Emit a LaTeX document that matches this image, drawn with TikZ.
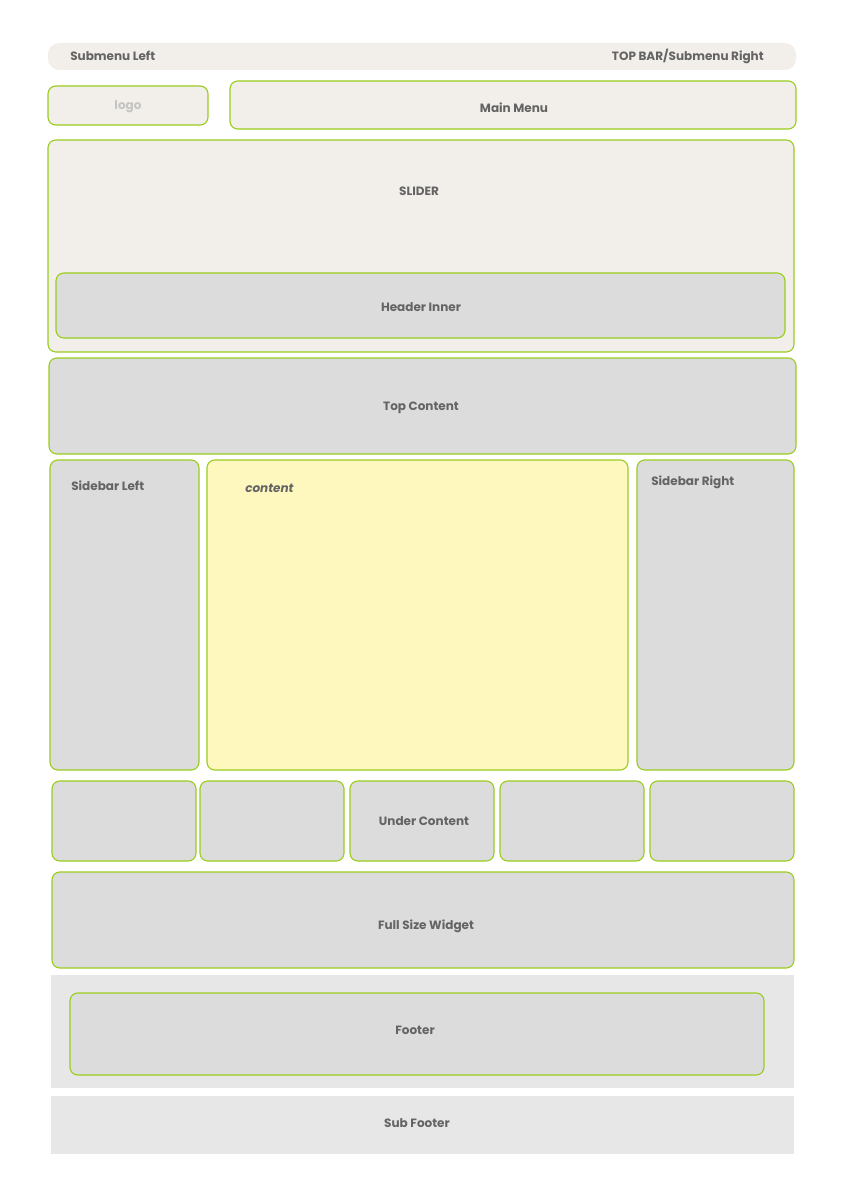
\documentclass[tikz,border=0pt]{standalone}
\usepackage{fontspec}
\setmainfont{Poppins}
\usetikzlibrary{fit}
\definecolor{bordergreen}{HTML}{9ACD1E}
\definecolor{beige}{HTML}{F2EFEA}
\definecolor{boxgray}{HTML}{DCDCDC}
\definecolor{lightgray}{HTML}{E7E7E7}
\definecolor{contentyellow}{HTML}{FEF8BE}
\definecolor{txt}{HTML}{646464}
\definecolor{logotxt}{HTML}{C4C4C4}
\tikzset{
  panel/.style={draw=bordergreen, line width=0.8pt, rounded corners=5.5pt, inner sep=0pt},
  beigepanel/.style={panel, fill=beige},
  graypanel/.style={panel, fill=boxgray},
  plainpanel/.style={fill=lightgray, draw=none, inner sep=0pt},
  lbl/.style={font=\bfseries\fontsize{8.5}{10}\selectfont, text=txt, inner sep=0pt, yshift=-1.2pt},
}
\begin{document}
\begin{tikzpicture}[x=0.70699pt, y=-0.70699pt]
\useasboundingbox[fill=white] (0,0) rectangle (842,1191);
% top bar
\node[fill=beige, rounded corners=8pt, inner sep=0pt, fit={(48,43) (796,70)}] (topbar) {};
\node[lbl, anchor=west] (subleft) at (70,54) {Submenu Left};
\node[lbl, anchor=east] (subright) at (764,55) {TOP BAR/Submenu Right};
% logo and main menu
\node[beigepanel, fit={(48,86) (208,125)}] (logo) {};
\node[lbl, text=logotxt] (logotext) at (logo.center) {logo};
\node[beigepanel, fit={(230,81) (796,129)}] (mainmenu) {};
\node[lbl] (mainmenutext) at (514,106) {Main Menu};
% slider
\node[beigepanel, fit={(48,140) (794,352)}] (slider) {};
\node[lbl] (slidertext) at (419,190) {SLIDER};
\node[graypanel, fit={(56,273) (785,338)}] (headerinner) {};
\node[lbl] (headerinnertext) at (421,305) {Header Inner};
% top content
\node[graypanel, fit={(49,358) (796,454)}] (topcontent) {};
\node[lbl] (topcontenttext) at (421,406) {Top Content};
% main row
\node[graypanel, fit={(50,460) (199,770)}] (sidebarleft) {};
\node[lbl, anchor=west] (sidebarlefttext) at (71,484) {Sidebar Left};
\node[panel, fill=contentyellow, fit={(207,460) (628,770)}] (content) {};
\node[lbl, anchor=west, font=\bfseries\itshape\fontsize{8.5}{10}\selectfont] (contenttext) at (245,487) {content};
\node[graypanel, fit={(637,460) (794,770)}] (sidebarright) {};
\node[lbl, anchor=west] (sidebarrighttext) at (651,481) {Sidebar Right};
% under content
\node[graypanel, fit={(52,781) (196,861)}] (uc1) {};
\node[graypanel, fit={(200,781) (344,861)}] (uc2) {};
\node[graypanel, fit={(350,781) (494,861)}] (uc3) {};
\node[graypanel, fit={(500,781) (644,861)}] (uc4) {};
\node[graypanel, fit={(650,781) (794,861)}] (uc5) {};
\node[lbl] (undercontenttext) at (424,819) {Under Content};
% full size widget
\node[graypanel, fit={(52,872) (794,968)}] (fullwidget) {};
\node[lbl] (fullwidgettext) at (426,925) {Full Size Widget};
% footer
\node[plainpanel, fit={(51,975) (794,1088)}] (footerarea) {};
\node[graypanel, fit={(70,993) (764,1075)}] (footer) {};
\node[lbl] (footertext) at (415,1029) {Footer};
% sub footer
\node[plainpanel, fit={(51,1096) (794,1154)}] (subfooter) {};
\node[lbl] (subfootertext) at (417,1121) {Sub Footer};
\end{tikzpicture}
\end{document}
